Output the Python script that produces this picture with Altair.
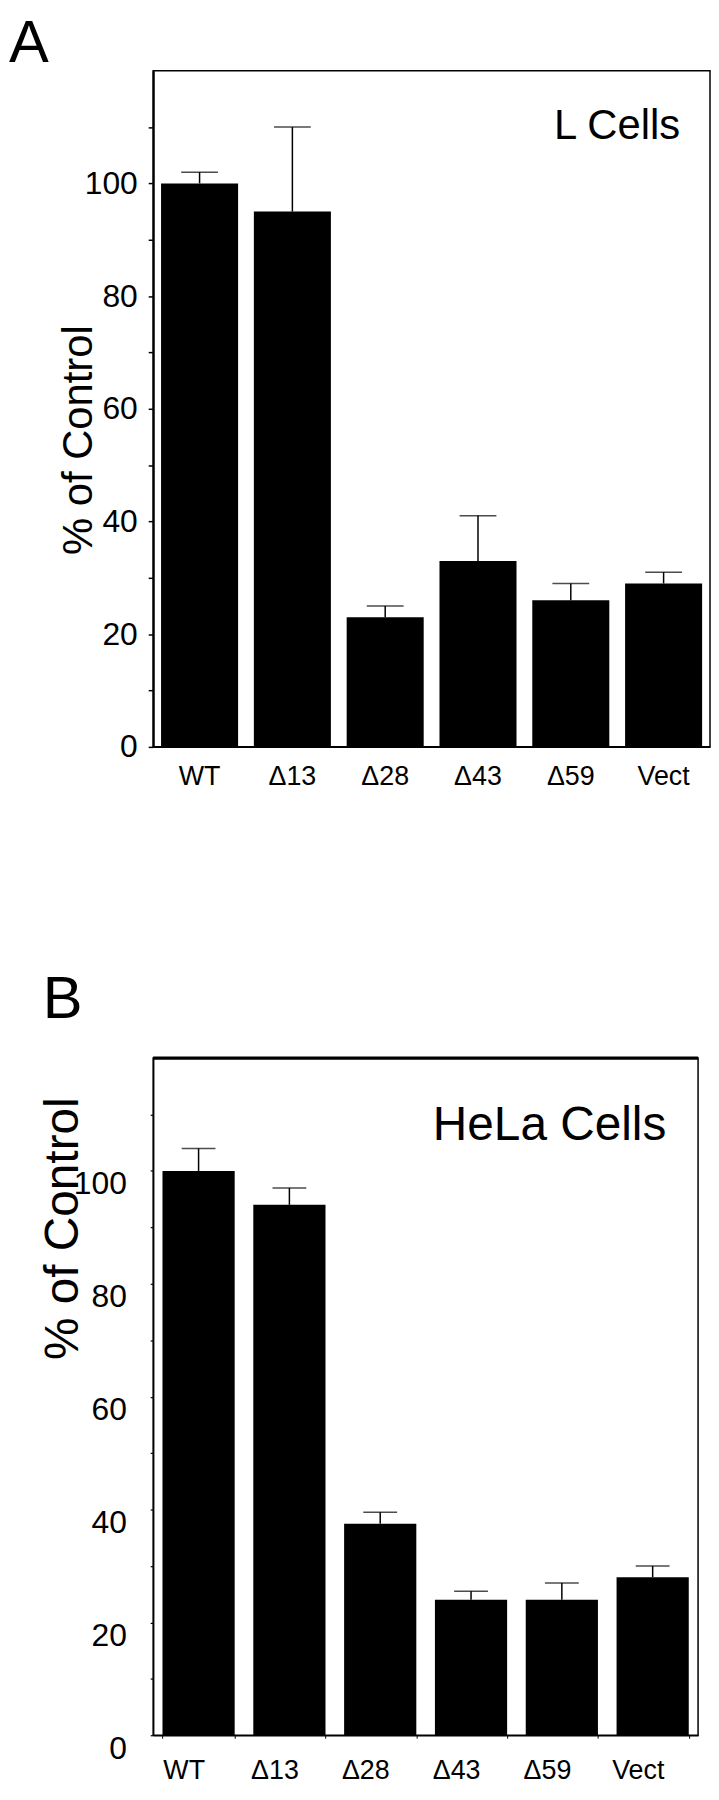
import altair as alt
import pandas as pd

FONT = "Liberation Sans"

categories = ["WT", "Δ13", "Δ28", "Δ43", "Δ59", "Vect"]
l_cells_mean = [100, 95, 23, 33, 26, 29]
l_cells_err = [2, 15, 2, 8, 3, 2]
hela_mean = [100, 94, 37.5, 24, 24, 28]
hela_err = [4, 3, 2, 1.5, 3, 2]
panel_letters = ["A", "B"]
panel_names = ["L Cells", "HeLa Cells"]
y_title = "% of Control"


def panel(means, errs, letter, name, width, height, pad_inner, x_axis, y_axis,
          cap_size, letter_dx, letter_offset, name_x, name_y, name_size,
          top_rule=None):
    df = pd.DataFrame({"cat": categories, "value": means, "err": errs})
    base = alt.Chart(df).transform_calculate(upper="datum.value + datum.err")
    xscale = alt.Scale(paddingInner=pad_inner, paddingOuter=pad_inner / 2)
    x = alt.X("cat:N", sort=categories, scale=xscale, axis=x_axis, title=None)
    x_plain = alt.X("cat:N", sort=categories, scale=xscale)
    y = alt.Y("value:Q", scale=alt.Scale(domain=[0, 120], nice=False, zero=True),
              axis=y_axis)
    bars = base.mark_bar(color="black").encode(x=x, y=y)
    stem = base.mark_rule(color="black", strokeWidth=1.5).encode(
        x=x_plain, y="value:Q", y2="upper:Q")
    cap = base.mark_tick(color="black", thickness=1.5, size=cap_size).encode(
        x=x_plain, y="upper:Q")
    label = alt.Chart(pd.DataFrame({"t": [name]})).mark_text(
        font=FONT, fontSize=name_size, align="right", baseline="alphabetic",
        color="black"
    ).encode(text="t:N", x=alt.value(name_x), y=alt.datum(name_y))
    layers = [bars, stem, cap, label]
    if top_rule is not None:
        layers.append(
            alt.Chart(pd.DataFrame({"v": [120]})).mark_rule(
                color="black", strokeWidth=top_rule).encode(y="v:Q")
        )
    return alt.layer(*layers).properties(
        width=width, height=height,
        title=alt.TitleParams(letter, anchor="start", frame="group", fontSize=60,
                              font=FONT, fontWeight="normal", color="black",
                              dx=letter_dx, dy=58, offset=letter_offset,
                              baseline="alphabetic"),
    )


label_expr = "datum.value % 20 == 0 ? datum.label : ''"

axA_x = alt.Axis(labelAngle=0, labelFontSize=27, labelPadding=17, ticks=False,
                 tickSize=0, domainWidth=1.5)
axA_y = alt.Axis(title=y_title, values=list(range(0, 120, 10)), labelExpr=label_expr,
                 tickSize=5, tickWidth=1.5, labelPadding=11, labelFontSize=32,
                 domainWidth=2.2, titleFontSize=42,
                 titleFontWeight="normal", titleX=-62, titleY=371, titleAngle=270,
                 titleBaseline="alphabetic", titleAlign="center", grid=False)

axB_x = alt.Axis(labelAngle=0, labelFontSize=27, labelPadding=20, ticks=True,
                 tickSize=3, tickBand="extent", labelOffset=-15, domainWidth=1.5)
axB_y = alt.Axis(title=y_title, values=list(range(0, 120, 10)), labelExpr=label_expr,
                 tickSize=3, tickWidth=1.2, labelPadding=24, labelFontSize=32,
                 labelOffset=13, domainWidth=1.5, titleFontSize=48,
                 titleFontWeight="normal", titleX=-76, titleY=171, titleAngle=270,
                 titleBaseline="alphabetic", titleAlign="center", grid=False)

chartA = panel(l_cells_mean, l_cells_err, panel_letters[0], panel_names[0], 560, 680,
               0.17, axA_x, axA_y, 37, -145, 7, 530, 107.8, 42)
chartB = panel(hela_mean, hela_err, panel_letters[1], panel_names[1], 548, 681,
               0.205, axB_x, axB_y, 34, -111, 37, 516, 105.5, 48, top_rule=3.3)

chart = alt.vconcat(chartA, chartB, spacing=313, bounds="flush").properties(
    padding=0
).configure_view(stroke="black", strokeWidth=1.5).configure_axis(
    labelFont=FONT, titleFont=FONT, labelColor="black", titleColor="black",
    domainColor="black", tickColor="black", grid=False
)

chart.save("out.html", embed_options={"renderer": "svg", "actions": False})
